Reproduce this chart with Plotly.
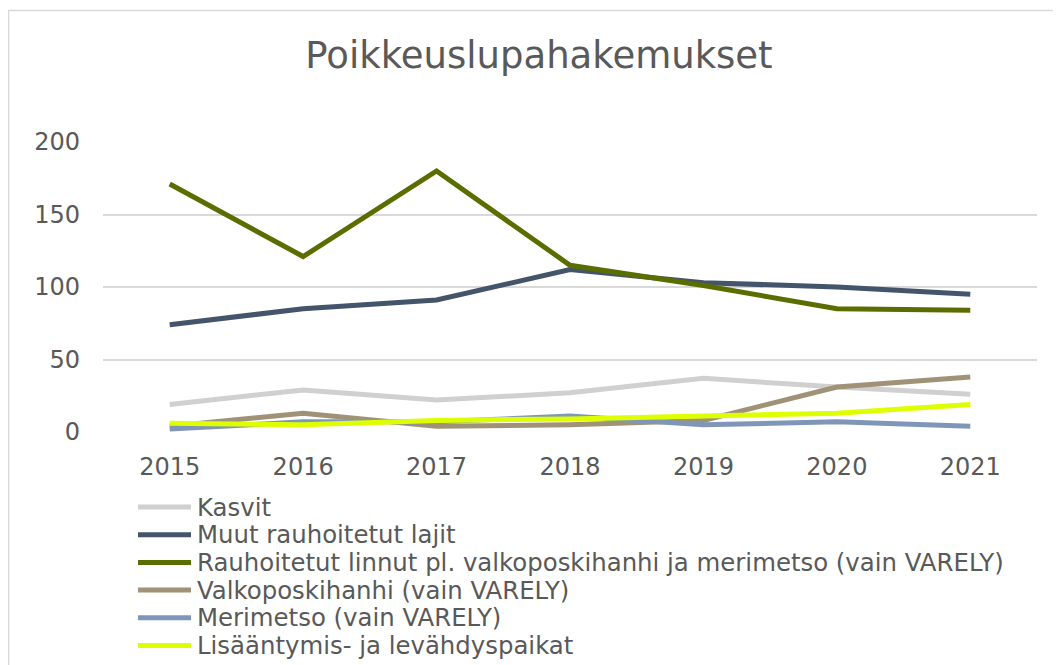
import plotly.graph_objects as go

years = ["2015", "2016", "2017", "2018", "2019", "2020", "2021"]
kasvit = [19, 29, 22, 27, 37, 31, 26]
muut = [74, 85, 91, 112, 103, 100, 95]
linnut = [171, 121, 180, 115, 101, 85, 84]
valko = [4, 13, 4, 5, 8, 31, 38]
merimetso = [2, 7, 7, 11, 5, 7, 4]
lisa = [6, 5, 8, 9, 11, 13, 19]

series = [
    ("Kasvit", kasvit, "#D0D0D0"),
    ("Muut rauhoitetut lajit", muut, "#44546A"),
    ("Rauhoitetut linnut pl. valkoposkihanhi ja merimetso (vain VARELY)", linnut, "#5A6E00"),
    ("Valkoposkihanhi (vain VARELY)", valko, "#A09276"),
    ("Merimetso (vain VARELY)", merimetso, "#8096B8"),
    ("Lisääntymis- ja levähdyspaikat", lisa, "#DDFF00"),
]

# page is rendered with an 8px body margin
OFF = 8
W, H = 1061, 665
# plot area in page pixels: x 103..1037, y 142..432
L = 103 - OFF
T = 142 - OFF
R = W - (1037 - OFF)
B = H - (432 - OFF)

pw = W - L - R
ph = H - T - B
def px2paper_x(px):
    return (px - OFF - L) / pw
def px2paper_y(py):
    return (H - B - (py - OFF)) / ph

fig = go.Figure()
for name, vals, col in series:
    fig.add_trace(go.Scatter(x=years, y=vals, name=name, mode="lines",
                             line=dict(color=col, width=5), showlegend=False))

shapes = [dict(type="rect", xref="paper", yref="paper",
               x0=px2paper_x(8.5), x1=px2paper_x(1100),
               y0=px2paper_y(700), y1=px2paper_y(10.5),
               line=dict(color="#D9D9D9", width=1.5), fillcolor="rgba(0,0,0,0)",
               layer="below")]
annotations = []
row0, rowstep = 507, 27.7
for i, (name, vals, col) in enumerate(series):
    yy = px2paper_y(row0 + i * rowstep)
    shapes.append(dict(type="line", xref="paper", yref="paper",
                       x0=px2paper_x(138), x1=px2paper_x(191), y0=yy, y1=yy,
                       line=dict(color=col, width=5)))
    annotations.append(dict(text=name, xref="paper", yref="paper",
                            x=px2paper_x(195), y=yy, xanchor="left", yanchor="middle",
                            showarrow=False, font=dict(size=24.4, color="#595959")))

fig.update_layout(
    width=W, height=H,
    margin=dict(l=L, r=R, t=T, b=B, autoexpand=False),
    paper_bgcolor="white", plot_bgcolor="white",
    font=dict(family="DejaVu Sans", color="#595959"),
    title=dict(text="Poikkeuslupahakemukset", x=(539 - OFF) / W, xref="container",
               xanchor="center", y=1 - (55 - OFF) / H, yref="container", yanchor="middle",
               font=dict(size=37, color="#595959")),
    xaxis=dict(type="category", range=[-0.5, 6.5], showgrid=False, zeroline=False,
               showline=False, ticks="", tickfont=dict(size=24, color="#595959"),
               ticklabelstandoff=18),
    yaxis=dict(range=[0, 200], tickvals=[0, 50, 100, 150, 200], gridcolor="#D9D9D9",
               gridwidth=1.5, zeroline=False, showline=False, ticks="",
               tickfont=dict(size=24, color="#595959"), ticklabelstandoff=22),
    showlegend=False,
    shapes=shapes,
    annotations=annotations,
)

fig.write_html("out.html")
